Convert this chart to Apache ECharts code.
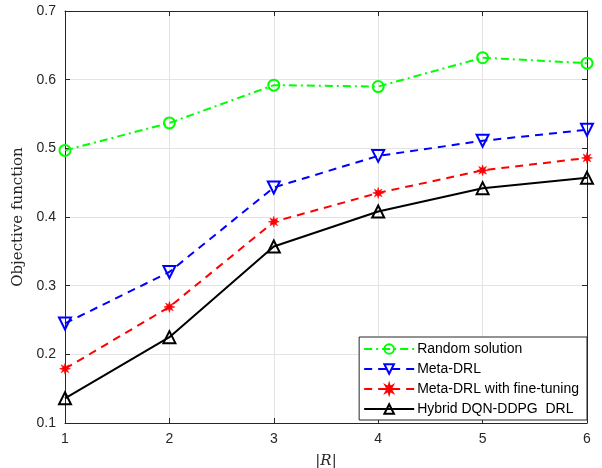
<!DOCTYPE html>
<html><head><meta charset="utf-8">
<script src="https://cdn.jsdelivr.net/npm/echarts@6/dist/echarts.min.js"></script>
<style>html,body{margin:0;padding:0;background:#fff}#c{width:602px;height:468px}</style>
</head><body><div id="c"></div>
<script>
const xVals = [1, 2, 3, 4, 5, 6];
const randomSolution = [0.497, 0.537, 0.592, 0.590, 0.632, 0.624];
const metaDRL = [0.245, 0.320, 0.443, 0.489, 0.511, 0.527];
const metaDRLFT = [0.179, 0.269, 0.393, 0.435, 0.468, 0.486];
const hybridDRL = [0.136, 0.225, 0.357, 0.408, 0.442, 0.457];
const seriesNames = ['Random solution', 'Meta-DRL', 'Meta-DRL with fine-tuning', 'Hybrid DQN-DDPG  DRL'];
const yTicks = [0.1, 0.2, 0.3, 0.4, 0.5, 0.6, 0.7];

const pairs = a => xVals.map((x, i) => [x, a[i]]);
const star = 'path://M10,5 L7.03,5.84 L8.54,8.54 L5.84,7.03 L5,10 L4.16,7.03 L1.46,8.54 L2.97,5.84 L0,5 L2.97,4.16 L1.46,1.46 L4.16,2.97 L5,0 L5.84,2.97 L8.54,1.46 L7.03,4.16 Z';
const axisColor = '#262626';
const font = 'Liberation Sans, Arial, sans-serif';

function mk(name, data, color, dash, symbol, size, hollow, rotate) {
  return {
    name, type: 'line', data: pairs(data),
    symbol, symbolSize: size, symbolRotate: rotate || 0,
    lineStyle: { color, width: 2, type: dash },
    itemStyle: hollow ? { color: 'rgba(255,255,255,0)', borderColor: color, borderWidth: 2 } : { color, borderColor: color, borderWidth: 0.5 },
    emphasis: { disabled: true }, animation: false, z: 3
  };
}

const chart = echarts.init(document.getElementById('c'));
chart.setOption({
  animation: false,
  grid: { left: 65, right: 15, top: 11, bottom: 45, containLabel: false, outerBoundsMode: 'none' },
  xAxis: [{
    type: 'value', min: 1, max: 6, interval: 1,
    name: '|R|', nameLocation: 'middle', nameGap: 31,
    nameTextStyle: { fontFamily: 'DejaVu Serif, serif', fontStyle: 'italic', fontSize: 15, color: axisColor },
    axisLine: { show: true, lineStyle: { color: axisColor, width: 1 } },
    axisTick: { show: true, inside: true, length: 5, lineStyle: { color: axisColor } },
    axisLabel: { color: axisColor, fontSize: 14, fontFamily: font, margin: 9 },
    splitLine: { show: true, lineStyle: { color: '#e3e3e3', width: 1 } }
  }, {
    type: 'value', min: 1, max: 6, interval: 1, position: 'top',
    axisLine: { show: true, lineStyle: { color: axisColor, width: 1 } },
    axisTick: { show: true, inside: true, length: 5, lineStyle: { color: axisColor } },
    axisLabel: { show: false }, splitLine: { show: false }
  }],
  yAxis: [{
    type: 'value', min: 0.1, max: 0.7, interval: 0.1,
    name: 'Objective function', nameLocation: 'middle', nameGap: 38,
    nameTextStyle: { fontFamily: 'DejaVu Serif, serif', fontSize: 15, color: axisColor },
    axisLine: { show: true, lineStyle: { color: axisColor, width: 1 } },
    axisTick: { show: true, inside: true, length: 5, lineStyle: { color: axisColor } },
    axisLabel: { color: axisColor, fontSize: 14, fontFamily: font, margin: 9, formatter: v => v.toFixed(1) },
    splitLine: { show: true, lineStyle: { color: '#e3e3e3', width: 1 } }
  }, {
    type: 'value', min: 0.1, max: 0.7, interval: 0.1, position: 'right',
    axisLine: { show: true, lineStyle: { color: axisColor, width: 1 } },
    axisTick: { show: true, inside: true, length: 5, lineStyle: { color: axisColor } },
    axisLabel: { show: false }, splitLine: { show: false }
  }],
  legend: {
    data: seriesNames, orient: 'vertical', right: 15, bottom: 48,
    backgroundColor: '#fff', borderColor: axisColor, borderWidth: 1,
    padding: [5, 8, 4, 4], itemGap: 6, itemWidth: 50, itemHeight: 12,
    textStyle: { fontFamily: font, fontSize: 14, color: '#000', padding: [0, 0, 0, -2] }, z: 10
  },
  series: [
    mk(seriesNames[0], randomSolution, '#00ff00', [8, 4, 2, 4], 'circle', 11, true),
    mk(seriesNames[1], metaDRL, '#0000ff', [8, 6], 'triangle', 12, true, 180),
    mk(seriesNames[2], metaDRLFT, '#ff0000', [8, 6], star, 11, false),
    mk(seriesNames[3], hybridDRL, '#000000', 'solid', 'triangle', 12, true)
  ]
});
</script></body></html>
